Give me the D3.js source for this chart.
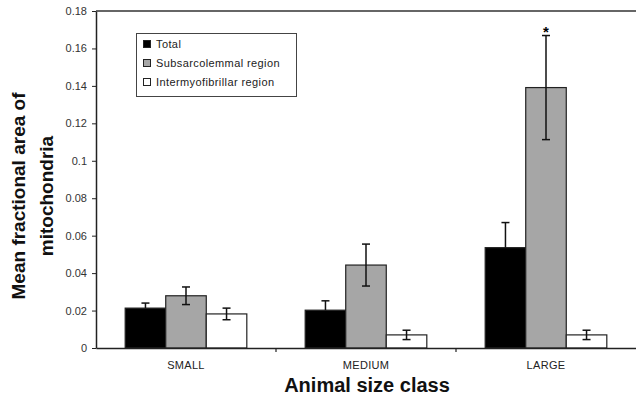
<!DOCTYPE html>
<html>
<head>
<meta charset="utf-8">
<script src="https://cdn.jsdelivr.net/npm/d3@7"></script>
<style>
  html, body { margin: 0; padding: 0; background: #fff; }
  svg { display: block; font-family: Arial, "Liberation Sans", sans-serif; }
</style>
</head>
<body>
<svg id="chart" width="636" height="397"></svg>
<script>
// Size classes and series
const categories = ["SMALL", "MEDIUM", "LARGE"];
const seriesNames = ["Total", "Subsarcolemmal region", "Intermyofibrillar region"];
const totalValues = [0.0213, 0.0202, 0.0536];
const subsarcolemmalValues = [0.0279, 0.0443, 0.1391];
const intermyofibrillarValues = [0.0182, 0.0070, 0.0070];
const totalErrors = [0.0027, 0.0050, 0.0134];
const subsarcolemmalErrors = [0.0047, 0.0112, 0.0278];
const intermyofibrillarErrors = [0.0031, 0.0025, 0.0025];
const yTicks = [0, 0.02, 0.04, 0.06, 0.08, 0.1, 0.12, 0.14, 0.16, 0.18];
const yTickLabels = ["0", "0.02", "0.04", "0.06", "0.08", "0.1", "0.12", "0.14", "0.16", "0.18"];
// significance marker: [category, series]
const significantBars = [["LARGE", "Subsarcolemmal region"]];

const seriesValues = [totalValues, subsarcolemmalValues, intermyofibrillarValues];
const seriesErrors = [totalErrors, subsarcolemmalErrors, intermyofibrillarErrors];
const fills = ["#000000", "#a6a6a6", "#ffffff"];

const svg = d3.select("#chart");
const margin = { left: 96, right: 0, top: 11, bottom: 49 };
const W = 636, H = 397;

const x0 = d3.scaleBand().domain(categories)
  .range([margin.left, W - margin.right]).paddingInner(0).paddingOuter(0);
const x1 = d3.scaleBand().domain(d3.range(seriesNames.length))
  .range([0, x0.bandwidth()]).paddingInner(0).paddingOuter(0.72);
const y = d3.scaleLinear().domain([0, 0.18]).range([H - margin.bottom, margin.top]);

// Bars
const rows = [];
categories.forEach((c, ci) => {
  seriesNames.forEach((s, si) => {
    rows.push({
      c, ci, si,
      v: seriesValues[si][ci],
      e: seriesErrors[si][ci],
      star: significantBars.some(([bc, bs]) => bc === c && bs === s)
    });
  });
});

svg.append("g").selectAll("rect").data(rows).join("rect")
  .attr("x", d => x0(d.c) + x1(d.si))
  .attr("y", d => y(d.v))
  .attr("width", x1.bandwidth())
  .attr("height", d => y(0) - y(d.v))
  .attr("fill", d => fills[d.si])
  .attr("stroke", "#222")
  .attr("stroke-width", 1.2);

// Error bars
const eg = svg.append("g").attr("stroke", "#111").attr("stroke-width", 1.5);
rows.forEach(d => {
  const cx = x0(d.c) + x1(d.si) + x1.bandwidth() / 2;
  const lo = d.si === 0 ? d.v : d.v - d.e;
  const hi = d.v + d.e;
  eg.append("line").attr("x1", cx).attr("x2", cx).attr("y1", y(lo)).attr("y2", y(hi));
  eg.append("line").attr("x1", cx - 4).attr("x2", cx + 4).attr("y1", y(hi)).attr("y2", y(hi));
  if (d.si !== 0) {
    eg.append("line").attr("x1", cx - 4).attr("x2", cx + 4).attr("y1", y(lo)).attr("y2", y(lo));
  }
  if (d.star) {
    svg.append("text").attr("x", cx).attr("y", y(hi) + 1)
      .attr("text-anchor", "middle").attr("font-size", 15).attr("font-weight", "bold")
      .text("*");
  }
});

// Y axis
const yAxis = d3.axisLeft(y).tickValues(yTicks)
  .tickFormat((d, i) => yTickLabels[i]).tickSize(4).tickSizeOuter(0).tickPadding(5);
const yg = svg.append("g").attr("transform", `translate(${margin.left},0)`).call(yAxis);
yg.select(".domain").attr("stroke", "#222").attr("stroke-width", 1.5);
yg.selectAll(".tick line").attr("stroke", "#222");
yg.selectAll("text").attr("font-size", 11).attr("fill", "#333");

// X axis
const xAxis = d3.axisBottom(x0).tickSize(0).tickPadding(13);
const xg = svg.append("g").attr("transform", `translate(0,${y(0)})`).call(xAxis);
xg.select(".domain").attr("stroke", "#222").attr("stroke-width", 1.5);
xg.selectAll("text").attr("font-size", 11).attr("letter-spacing", 0.3).attr("fill", "#222");
// category separators
svg.append("g").selectAll("line").data(categories.slice(1)).join("line")
  .attr("x1", d => x0(d)).attr("x2", d => x0(d))
  .attr("y1", y(0)).attr("y2", y(0) + 4)
  .attr("stroke", "#222").attr("stroke-width", 1.2);

// Top frame line
svg.append("line").attr("x1", margin.left).attr("x2", W)
  .attr("y1", y(0.18)).attr("y2", y(0.18))
  .attr("stroke", "#333").attr("stroke-width", 1.3);

// Axis titles
svg.append("text").attr("x", 367).attr("y", 392).attr("text-anchor", "middle")
  .attr("font-size", 20).attr("font-weight", "bold").attr("fill", "#111")
  .text("Animal size class");
const yt = svg.append("text").attr("transform", "translate(0,196) rotate(-90)")
  .attr("text-anchor", "middle").attr("font-size", 19).attr("font-weight", "bold").attr("fill", "#111");
yt.append("tspan").attr("x", 0).attr("y", 25).text("Mean fractional area of");
yt.append("tspan").attr("x", 0).attr("y", 53).text("mitochondria");

// Legend
const lg = svg.append("g");
lg.append("rect").attr("x", 136.5).attr("y", 33.5).attr("width", 160).attr("height", 63)
  .attr("fill", "#fff").attr("stroke", "#444").attr("stroke-width", 1);
seriesNames.forEach((s, i) => {
  const cy = 44 + i * 19;
  lg.append("rect").attr("x", 143.5).attr("y", cy - 3.5).attr("width", 7).attr("height", 7)
    .attr("fill", fills[i]).attr("stroke", "#222").attr("stroke-width", 1);
  lg.append("text").attr("x", 156).attr("y", cy + 4).attr("font-size", 11)
    .attr("letter-spacing", 0.4).attr("fill", "#222").text(s);
});
</script>
</body>
</html>
